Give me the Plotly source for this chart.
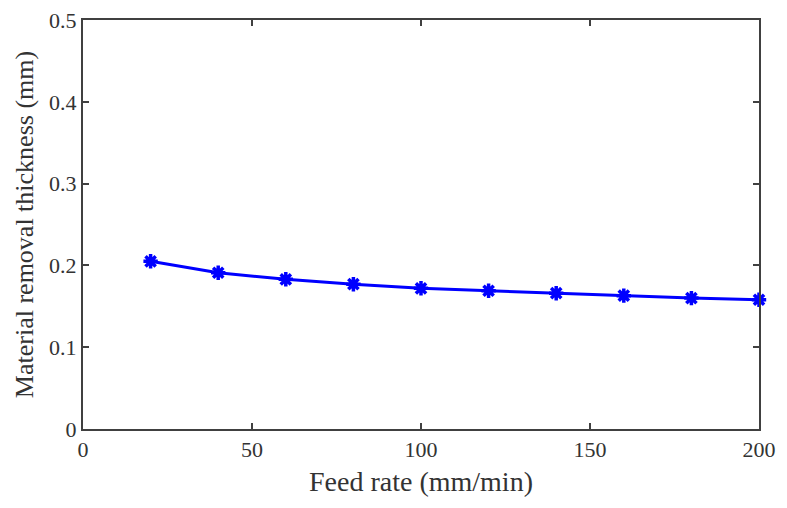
import plotly.graph_objects as go

feed_rate = [20, 40, 60, 80, 100, 120, 140, 160, 180, 200]
thickness = [0.205, 0.191, 0.183, 0.177, 0.172, 0.169, 0.166, 0.163, 0.160, 0.158]

fig = go.Figure()
fig.add_trace(go.Scatter(
    x=feed_rate, y=thickness, mode="lines+markers",
    line=dict(color="#0000ff", width=3),
    marker=dict(symbol="asterisk-open", size=12, color="#0000ff",
                line=dict(color="#0000ff", width=3.5)),
    cliponaxis=False, showlegend=False,
))

axis_common = dict(
    showline=True, linecolor="#404040", linewidth=2, mirror="ticks",
    ticks="inside", ticklen=6, tickwidth=1.5, tickcolor="#404040",
    showgrid=False, zeroline=False, automargin=False,
    ticklabeloverflow="allow",
    tickfont=dict(family="Liberation Serif", size=22, color="#333333"),
)

# page body has an 8px default margin; compensate so the axes land where the reference has them
fig.update_layout(
    width=779, height=500,
    margin=dict(l=75, r=28, t=12, b=79),
    paper_bgcolor="white", plot_bgcolor="white",
    xaxis=dict(range=[0, 200], tickvals=[0, 50, 100, 150, 200],
               title=dict(text="Feed rate (mm/min)", standoff=10,
                          font=dict(family="Liberation Serif", size=28, color="#333333")),
               **axis_common),
    yaxis=dict(range=[0, 0.5], tickvals=[0, 0.1, 0.2, 0.3, 0.4, 0.5],
               ticktext=["0", "0.1", "0.2", "0.3", "0.4", "0.5"],
               title=dict(text="Material removal thickness (mm)", standoff=8,
                          font=dict(family="Liberation Serif", size=26, color="#333333")),
               **axis_common),
)

fig.write_html("out.html")
